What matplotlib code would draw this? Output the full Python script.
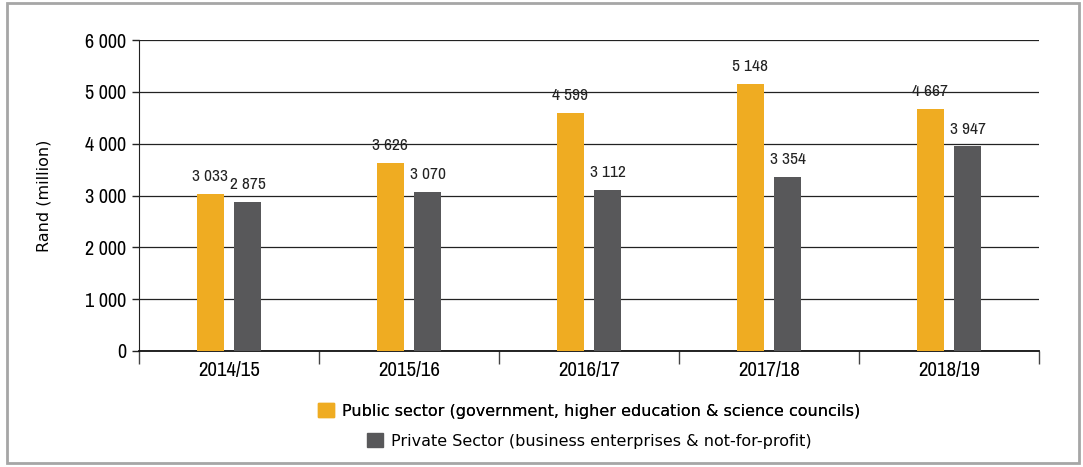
import matplotlib.pyplot as plt
import matplotlib.patches as mpatches
from matplotlib import font_manager
import numpy as np

# financial years and spending (Rand million)
years = ['2014/15', '2015/16', '2016/17', '2017/18', '2018/19']
public_sector = [3033, 3626, 4599, 5148, 4667]
private_sector = [2875, 3070, 3112, 3354, 3947]

public_label = 'Public sector (government, higher education & science councils)'
private_label = 'Private Sector (business enterprises & not-for-profit)'

orange = '#EFAC22'
grey = '#58585A'

# regular-weight condensed face for numbers, if one is installed
cond = [f for f in font_manager.fontManager.ttflist
        if ('Narrow' in f.name or 'Condensed' in f.fname)
        and f.style == 'normal' and f.weight in (400, 'normal', 'regular')]
cond.sort(key=lambda f: 0 if 'Narrow' in f.name else 1)
if cond:
    num_font = font_manager.FontProperties(fname=cond[0].fname)
else:
    num_font = font_manager.FontProperties(family='DejaVu Sans')

def fmt(v):
    return f'{v:,}'.replace(',', ' ')

def numfont(size):
    fp = num_font.copy()
    fp.set_size(size)
    return fp

fig = plt.figure(figsize=(10.83, 4.67), dpi=100)
ax = fig.add_axes([139 / 1083, 1 - 351 / 467, 900 / 1083, 311 / 467])

x = np.arange(len(years))
w = 0.15
off = 0.105
ax.bar(x - off, public_sector, w, color=orange, zorder=3)
ax.bar(x + off, private_sector, w, color=grey, zorder=3)

for xi, v in zip(x, public_sector):
    ax.annotate(fmt(v), (xi - off, v), xytext=(0, 7), textcoords='offset points',
                ha='center', va='bottom', fontproperties=numfont(12.5), color='#222222')
for xi, v in zip(x, private_sector):
    ax.annotate(fmt(v), (xi + off, v), xytext=(0, 7), textcoords='offset points',
                ha='center', va='bottom', fontproperties=numfont(12.5), color='#222222')

ax.set_xlim(-0.5, len(years) - 0.5)
ax.set_ylim(0, 6000)
ax.set_yticks(range(0, 6001, 1000))
ax.set_yticklabels([fmt(v) for v in range(0, 6001, 1000)], fontproperties=numfont(14.5))
ax.yaxis.grid(True, color='#222222', linewidth=0.9, zorder=0)

# category labels at centres, tick marks at the boundaries
ax.set_xticks(x)
ax.set_xticklabels(years, fontproperties=numfont(15))
ax.tick_params(axis='x', length=0, pad=7)
ax.set_xticks(np.arange(-0.5, len(years)), minor=True)
ax.tick_params(axis='x', which='minor', length=9, width=1, color='#444444')
ax.tick_params(axis='y', length=5, width=1, color='#222222', pad=4)

for s in ['top', 'right']:
    ax.spines[s].set_visible(False)
ax.spines['left'].set_color('#222222')
ax.spines['bottom'].set_color('#111111')
ax.spines['bottom'].set_linewidth(1.3)

ax.set_ylabel('Rand (million)', fontsize=11.5)
ax.yaxis.set_label_coords(-0.097, 0.5)

# legend: one entry per row, each row centred
leg1 = fig.legend(handles=[mpatches.Patch(color=orange)], labels=[public_label],
                  loc='center', bbox_to_anchor=(589 / 1083, 1 - 411 / 467),
                  frameon=False, fontsize=11.5, handlelength=1, handleheight=1,
                  handletextpad=0.5, borderpad=0)
leg2 = fig.legend(handles=[mpatches.Patch(color=grey)], labels=[private_label],
                  loc='center', bbox_to_anchor=(589 / 1083, 1 - 441 / 467),
                  frameon=False, fontsize=11.5, handlelength=1, handleheight=1,
                  handletextpad=0.5, borderpad=0)
fig.add_artist(leg1)

# outer frame
fig.patches.append(mpatches.Rectangle((7 / 1083, 4 / 467), 1072 / 1083, 460 / 467,
                                      transform=fig.transFigure, fill=False,
                                      edgecolor='#A6A6A6', linewidth=2))

fig.savefig('out.png', dpi=100)
